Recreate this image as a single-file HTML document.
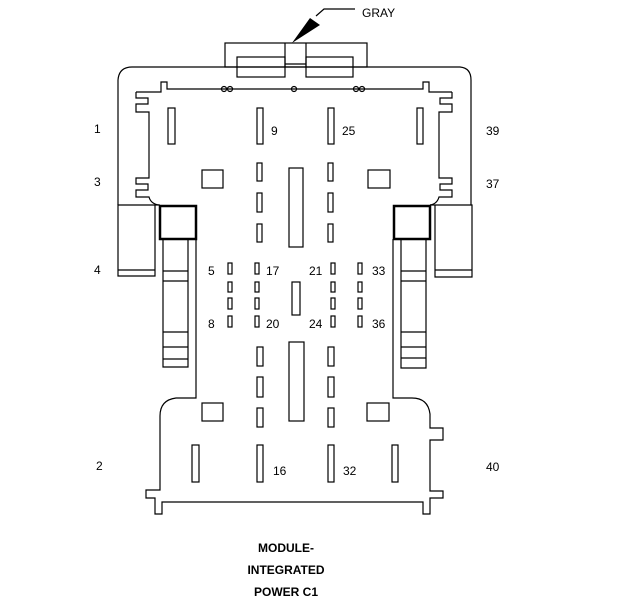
<!DOCTYPE html>
<html><head><meta charset="utf-8"><style>
html,body{margin:0;padding:0;background:#fff;}
svg{display:block;}
text{font-family:"Liberation Sans",Arial,sans-serif;font-size:12px;fill:#000;}
</style></head><body>
<svg width="624" height="600" viewBox="0 0 624 600" xmlns="http://www.w3.org/2000/svg">
<g fill="none" stroke="#000" stroke-width="1.2">
<!-- outer shell -->
<path d="M118 205 L118 80 Q119 67 132 67 L460 67 Q471 68 471 80 L471 205"/>
<!-- top connector -->
<rect x="225" y="43" width="142" height="24"/>
<line x1="285" y1="43" x2="285" y2="67"/><line x1="306" y1="43" x2="306" y2="67"/>
<rect x="237" y="57" width="48" height="20"/>
<rect x="306" y="57" width="47" height="20"/>
<line x1="285" y1="64" x2="306" y2="64"/>
<!-- inner top line -->
<path d="M136 92 L161 92 L161 82 L167 82 L167 89 L423 89 L423 82 L429 82 L429 92 L452 92"/>
<circle cx="224" cy="89" r="2.5"/><circle cx="230" cy="89" r="2.5"/>
<circle cx="294" cy="89" r="2.5"/>
<circle cx="356" cy="89" r="2.5"/><circle cx="362" cy="89" r="2.5"/>
<!-- inner walls with notches -->
<path d="M136 92 L136 98 L148 98 L148 104 L136 104 L136 112 L149 112 L149 178 L136 178 L136 184 L148 184 L148 190 L136 190 L136 197 L149 197 Q151 204 159 205"/>
<path d="M452 92 L452 98 L440 98 L440 104 L452 104 L452 112 L439 112 L439 178 L452 178 L452 184 L440 184 L440 190 L452 190 L452 197 L439 197 Q437 204 430 205"/>
<!-- side blocks -->
<path d="M118 205 L118 276 L155 276 L155 205 Z"/><line x1="118" y1="270" x2="155" y2="270"/>
<path d="M435 205 L435 277 L472 277 L472 205 Z"/><line x1="435" y1="270" x2="472" y2="270"/>
<line x1="155" y1="205" x2="160" y2="205"/><line x1="430" y1="205" x2="435" y2="205"/>
<!-- dark squares -->
<rect x="160" y="206" width="36" height="33" stroke-width="2.5"/>
<rect x="394" y="206" width="36" height="33" stroke-width="2.5"/>
<!-- strips -->
<path d="M163 240 L163 367 L188 367 L188 240"/>
<line x1="163" y1="271" x2="188" y2="271"/><line x1="163" y1="281" x2="188" y2="281"/>
<line x1="163" y1="332" x2="188" y2="332"/><line x1="163" y1="347" x2="188" y2="347"/><line x1="163" y1="359" x2="188" y2="359"/>
<path d="M401 240 L401 368 L426 368 L426 240"/>
<line x1="401" y1="271" x2="426" y2="271"/><line x1="401" y1="281" x2="426" y2="281"/>
<line x1="401" y1="332" x2="426" y2="332"/><line x1="401" y1="347" x2="426" y2="347"/><line x1="401" y1="358" x2="426" y2="358"/>
<!-- main walls -->
<path d="M196 239 L196 398 L176 398 Q160 400 160 416 L160 490 L146 490 L146 498 L155 498 L155 514 L162 514 L162 502 L423 502 L423 514 L430 514 L430 498 L443 498 L443 491 L430 491 L430 440 L443 440 L443 428 L430 428 L430 414 Q428 398 412 398 L393 398 L393 239"/>
<!-- contacts -->
<g>
<rect x="168" y="108" width="7" height="36"/><rect x="257" y="108" width="6" height="36"/>
<rect x="328" y="108" width="6" height="36"/><rect x="417" y="108" width="6" height="36"/>
<rect x="257" y="163" width="5" height="18"/><rect x="257" y="193" width="5" height="19"/><rect x="257" y="224" width="5" height="18"/>
<rect x="328" y="163" width="5" height="18"/><rect x="328" y="193" width="5" height="19"/><rect x="328" y="224" width="5" height="18"/>
<rect x="289" y="168" width="14" height="79"/>
<rect x="202" y="170" width="21" height="18"/><rect x="368" y="170" width="22" height="18"/>
<rect x="228" y="263" width="4" height="11"/><rect x="228" y="282" width="4" height="10"/><rect x="228" y="298" width="4" height="11"/><rect x="228" y="316" width="4" height="11"/>
<rect x="255" y="263" width="4" height="11"/><rect x="255" y="282" width="4" height="10"/><rect x="255" y="298" width="4" height="11"/><rect x="255" y="316" width="4" height="11"/>
<rect x="331" y="263" width="4" height="11"/><rect x="331" y="282" width="4" height="10"/><rect x="331" y="298" width="4" height="11"/><rect x="331" y="316" width="4" height="11"/>
<rect x="358" y="263" width="4" height="11"/><rect x="358" y="282" width="4" height="10"/><rect x="358" y="298" width="4" height="11"/><rect x="358" y="316" width="4" height="11"/>
<rect x="292" y="282" width="8" height="33"/>
<rect x="257" y="347" width="6" height="19"/><rect x="257" y="377" width="6" height="20"/><rect x="257" y="408" width="6" height="19"/>
<rect x="328" y="347" width="6" height="19"/><rect x="328" y="377" width="6" height="20"/><rect x="328" y="408" width="6" height="19"/>
<rect x="289" y="342" width="15" height="79"/>
<rect x="202" y="403" width="21" height="18"/><rect x="367" y="403" width="22" height="18"/>
<rect x="192" y="445" width="7" height="37"/><rect x="257" y="445" width="6" height="37"/>
<rect x="328" y="445" width="6" height="37"/><rect x="392" y="445" width="6" height="37"/>
</g>
<!-- arrow leader -->
<polyline points="316,16 324,9 355,9"/>
</g>
<polygon points="292,43 310,18 320,25" fill="#000"/>
<text x="362" y="17" style="font-size:12px">GRAY</text>
<g style="font-size:12.5px">
<text x="94" y="133">1</text><text x="94" y="186">3</text><text x="94" y="274">4</text><text x="96" y="470">2</text>
<text x="486" y="135">39</text><text x="486" y="188">37</text><text x="486" y="471">40</text>
<text x="271" y="135">9</text><text x="342" y="135">25</text>
<text x="208" y="275">5</text><text x="266" y="275">17</text><text x="309" y="275">21</text><text x="372" y="275">33</text>
<text x="208" y="328">8</text><text x="266" y="328">20</text><text x="309" y="328">24</text><text x="372" y="328">36</text>
<text x="273" y="475">16</text><text x="343" y="475">32</text>
</g>
<g style="font-size:12.5px;font-weight:bold" text-anchor="middle">
<text x="286" y="552">MODULE-</text>
<text x="286" y="574">INTEGRATED</text>
<text x="286" y="596">POWER C1</text>
</g>
</svg>
</body></html>
